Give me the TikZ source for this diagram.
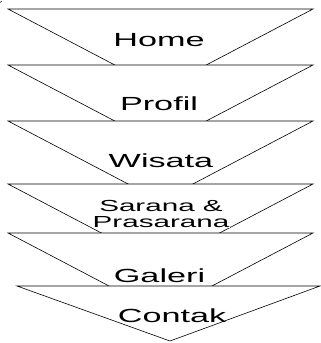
\documentclass[tikz,border=0pt]{standalone}
\usepackage{fontspec}
\setmainfont{Liberation Sans}
\begin{document}
\begin{tikzpicture}[x=1pt,y=-1pt,
  tri/.style={draw=black, fill=white, line width=0.6pt, line join=miter},
  lbl/.style={inner sep=0pt, anchor=base, xscale=1.8, font=\fontsize{19}{19}\selectfont},
  sublbl/.style={inner sep=0.5pt, anchor=base, xscale=1.85, align=center, fill=white, font=\fontsize{16}{16}\selectfont}]
\useasboundingbox (0,0) rectangle (321,343);
% small mark at top-left corner
\draw[line width=0.5pt] (0.3,2.5) -- (1.8,1);
% triangles, drawn top to bottom so each covers the tip of the one above
\path[tri] (8,9) -- (313,9) -- (160.5,89) -- cycle;
\path[tri] (8,65) -- (313,65) -- (160.5,145) -- cycle;
\path[tri] (8,121) -- (313,121) -- (160.5,201) -- cycle;
\path[tri] (8,184) -- (313,184) -- (160.5,264) -- cycle;
\node[sublbl] (sarana) at (161,227) {Sarana \&\\Prasarana};
\path[tri] (8,233) -- (313,233) -- (160.5,313) -- cycle;
\path[tri] (17,286) -- (320,286) -- (170,341) -- cycle;
% labels
\node[lbl] (home) at (159,46) {Home};
\node[lbl] (profil) at (159,110) {Profil};
\node[lbl] (wisata) at (161,167) {Wisata};
\node[lbl] (galeri) at (159.5,282) {Galeri};
\node[lbl] (contak) at (172,322) {Contak};
\end{tikzpicture}
\end{document}
